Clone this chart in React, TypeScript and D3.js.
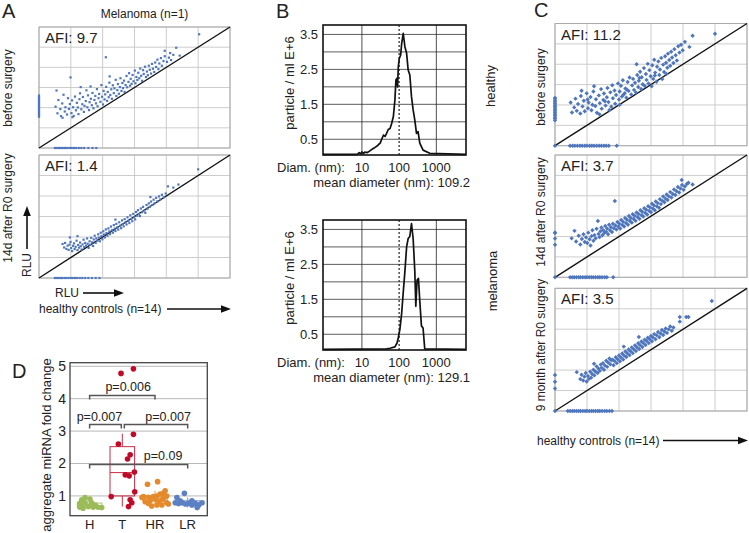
import React from 'react';
import * as d3 from 'd3';

const FONT = '"Liberation Sans", Arial, Helvetica, sans-serif';
const TXT = '#222';
const BLUE = '#4f76bd';

type P = [number, number];

// ---------------- Panel A : Melanoma (n=1) — grid units 0..6 ----------------
const aBeforeCloud: P[] = [
  [0.52,2.05],[0.58,1.72],[0.61,2.38],[0.67,1.93],[0.69,1.58],[0.73,2.21],[0.77,2.64],[0.81,1.81],[0.83,2.02],[0.88,1.66],
  [0.91,2.47],[0.94,1.94],[0.97,2.18],[1.02,1.73],[1.04,2.36],[1.07,2.02],[1.09,1.59],[1.13,2.55],[1.16,1.87],[1.19,2.24],
  [1.22,2.01],[1.24,1.68],[1.27,2.42],[1.29,2.71],[1.33,1.92],[1.36,2.17],[1.38,2.53],[1.41,1.79],[1.43,2.09],[1.47,2.33],
  [1.49,2.86],[1.52,2.02],[1.54,2.61],[1.57,1.88],[1.59,2.27],[1.63,2.44],[1.66,2.12],[1.68,2.73],[1.71,1.97],[1.74,2.38],
  [1.77,2.58],[1.79,2.21],[1.82,2.92],[1.84,2.07],[1.87,2.47],[1.89,2.68],[1.93,2.29],[1.96,3.12],[1.98,2.54],[2.01,2.16],
  [2.03,2.83],[2.06,2.41],[2.08,2.66],[2.11,3.03],[2.14,2.34],[2.16,2.78],[2.19,2.52],[2.21,3.24],[2.24,2.63],[2.27,2.91],
  [2.29,2.44],[2.32,3.11],[2.35,2.72],[2.37,2.96],[2.41,3.38],[2.43,2.58],[2.46,2.87],[2.48,3.17],[2.51,2.69],[2.54,3.02],
  [2.56,3.46],[2.59,2.83],[2.62,3.22],[2.64,2.97],[2.67,3.34],[2.69,2.78],[2.72,3.12],[2.75,3.57],[2.77,3.01],[2.81,3.28],
  [2.83,3.71],[2.86,3.09],[2.88,3.43],[2.91,3.18],[2.94,3.62],[2.97,3.31],[3.01,3.84],[3.03,3.21],[3.06,3.52],[3.09,3.37],
  [3.12,3.73],[3.15,3.46],[3.18,3.94],[3.21,3.58],[3.24,3.33],[3.27,3.86],[3.29,3.67],[3.33,4.03],[3.36,3.52],[3.39,3.79],
  [3.42,3.61],[3.45,4.08],[3.48,3.88],[3.52,3.69],[3.55,4.17],[3.58,3.93],[3.62,3.77],[3.65,4.24],[3.68,4.02],[3.72,4.38],
  [3.75,3.91],[3.78,4.19],[3.83,4.46],[3.86,4.08],[3.91,4.31],[3.95,4.55],[4.02,4.27],[4.08,4.48],[4.15,4.36],[4.22,4.62],
  [4.31,4.97],[4.12,4.71],[5.03,5.64],[2.1,4.5],[0.99,3.5],[0.55,2.85],[1.31,3.02],[1.62,3.05],[2.22,3.55],[4.42,4.58],
  [3.95,4.82],[1.05,1.53],[0.74,1.5]
];
const aBeforeLeft: number[] = [1.55,1.61,1.66,1.72,1.79,1.84,1.9,1.97,2.03,2.08,2.15,2.21,2.27,2.34,2.4,2.46,2.52,2.6];
const aBeforeBottom: number[] = [0.5,0.55,0.61,0.66,0.72,0.79,0.84,0.9,0.97,1.03,1.1,1.17,1.25,1.33,1.42,1.55,1.68,1.8];

const aAfterCloud: P[] = [
  [0.74,1.66],[0.79,1.49],[0.82,1.71],[0.86,1.42],[0.9,1.58],[0.93,1.37],[0.96,1.63],[0.99,1.76],[1.01,1.46],[1.04,1.31],
  [1.07,1.57],[1.1,1.69],[1.12,1.41],[1.15,1.52],[1.18,1.82],[1.21,1.36],[1.23,1.61],[1.26,1.48],[1.29,1.73],[1.31,1.55],
  [1.34,1.39],[1.37,1.64],[1.4,1.87],[1.42,1.51],[1.45,1.71],[1.48,1.58],[1.51,1.93],[1.53,1.67],[1.56,1.47],[1.59,1.79],
  [1.61,1.62],[1.64,1.96],[1.67,1.74],[1.7,1.56],[1.72,1.88],[1.75,2.06],[1.78,1.71],[1.8,1.93],[1.83,1.82],[1.86,2.13],
  [1.88,1.97],[1.91,1.79],[1.94,2.21],[1.96,2.04],[1.99,1.89],[2.02,2.28],[2.04,2.12],[2.07,1.98],[2.1,2.37],[2.12,2.19],
  [2.15,2.06],[2.18,2.42],[2.21,2.27],[2.23,2.14],[2.26,2.51],[2.29,2.33],[2.32,2.21],[2.35,2.58],[2.38,2.41],[2.4,2.29],
  [2.43,2.64],[2.46,2.47],[2.49,2.36],[2.52,2.72],[2.55,2.55],[2.58,2.43],[2.61,2.81],[2.63,2.63],[2.66,2.52],[2.69,2.87],
  [2.72,2.71],[2.75,2.61],[2.78,2.96],[2.81,2.79],[2.84,2.68],[2.87,3.06],[2.9,2.88],[2.93,2.77],[2.96,3.13],[2.99,2.96],
  [3.02,2.86],[3.05,3.22],[3.08,3.04],[3.11,3.31],[3.14,3.12],[3.17,3.02],[3.2,3.39],[3.24,3.21],[3.27,3.47],[3.31,3.29],
  [3.34,3.18],[3.38,3.56],[3.41,3.38],[3.45,3.64],[3.48,3.47],[3.52,3.73],[3.56,3.56],[3.6,3.82],[3.64,3.65],[3.68,3.91],
  [3.72,3.74],[3.77,3.98],[3.81,3.83],[3.86,4.06],[3.92,3.94],[3.98,4.12],[4.05,4.47],[4.22,4.41],[4.38,4.56],[5.0,5.3],
  [1.21,2.04],[0.97,1.98],[3.5,3.95],[2.4,2.85]
];
const aAfterBottom: number[] = [0.5,0.56,0.62,0.68,0.73,0.8,0.86,0.93,1.0,1.06,1.13,1.2,1.28,1.36,1.45,1.55,1.66,1.78,1.9];
const afiA = ['9.7', '1.4'];

// ---------------- Panel C : healthy controls vs melanoma cohort ----------------
const cBeforeCloud: P[] = [
  [0.49,2.12],[0.53,1.63],[0.6,1.88],[0.64,2.31],[0.68,1.71],[0.72,2.05],[0.79,1.58],[0.81,2.44],[0.86,1.93],[0.9,2.21],
  [0.93,1.69],[0.99,2.57],[1.03,1.84],[1.05,2.12],[1.11,2.39],[1.14,1.74],[1.17,2.01],[1.2,2.66],[1.26,1.95],[1.28,2.28],
  [1.31,1.62],[1.37,2.47],[1.4,2.09],[1.44,2.78],[1.46,1.82],[1.51,2.25],[1.53,2.56],[1.58,1.97],[1.62,2.38],[1.64,2.83],
  [1.67,2.14],[1.73,2.62],[1.76,1.91],[1.79,2.97],[1.81,2.33],[1.86,2.71],[1.88,2.06],[1.91,2.49],[1.97,3.06],[2.0,2.27],
  [2.02,2.66],[2.06,2.94],[2.09,2.41],[2.12,3.21],[2.18,2.58],[2.2,2.81],[2.23,2.36],[2.27,3.13],[2.3,2.69],[2.33,3.35],
  [2.38,2.52],[2.41,2.96],[2.44,3.28],[2.47,2.74],[2.5,3.09],[2.53,2.61],[2.57,3.47],[2.6,2.88],[2.62,3.19],[2.66,3.63],
  [2.69,2.79],[2.71,3.36],[2.74,3.02],[2.78,3.81],[2.8,2.94],[2.84,3.52],[2.86,3.23],[2.9,4.02],[2.92,3.06],[2.95,3.71],
  [2.99,3.41],[3.02,2.92],[3.04,3.95],[3.07,3.28],[3.1,4.22],[3.13,3.59],[3.17,3.14],[3.19,3.88],[3.23,4.14],[3.26,3.47],
  [3.28,3.74],[3.32,4.31],[3.35,3.27],[3.38,3.98],[3.41,3.62],[3.44,4.39],[3.47,4.07],[3.51,3.83],[3.53,4.52],[3.57,4.21],
  [3.6,3.92],[3.63,4.61],[3.66,4.33],[3.7,4.06],[3.73,4.74],[3.77,4.44],[3.81,4.18],[3.85,4.88],[3.89,4.57],[3.94,4.96],
  [3.99,4.69],[4.06,5.1],[4.2,4.85],[4.3,5.4],[5.0,5.5],[2.02,2.01],[1.39,1.54],[2.55,4.0],[1.22,2.92],[0.83,2.7],
  [3.48,3.52],[2.25,2.75],[1.7,1.75],[1.02,2.27],[1.56,2.18],[2.14,2.5],[2.64,3.33],[3.12,3.45]
];
const cBeforeLeft: number[] = [0,1.25,1.33,1.4,1.48,1.55,1.62,1.7,1.77,1.85,1.92,2.0,2.08,2.15,2.22,2.3,2.35];
const cBeforeBottom: number[] = [0.47,0.55,0.62,0.7,0.78,0.85,0.93,1.0,1.08,1.15,1.22,1.3,1.38,1.45,1.53,1.6,1.68,1.93];

const cDay14Cloud: P[] = [
  [0.52,1.91],[0.61,2.28],[0.66,1.76],[0.74,2.04],[0.79,1.61],[0.84,1.88],[0.89,2.11],[0.93,1.73],[0.97,1.96],[1.01,1.68],
  [1.04,2.19],[1.08,1.87],[1.11,1.56],[1.14,2.02],[1.17,2.31],[1.2,1.79],[1.23,2.07],[1.27,1.91],[1.3,2.38],[1.34,2.76],
  [1.36,2.13],[1.39,1.97],[1.42,2.26],[1.45,2.44],[1.48,2.06],[1.51,2.31],[1.54,2.17],[1.57,2.52],[1.6,2.23],[1.63,2.39],
  [1.66,2.11],[1.69,2.58],[1.72,2.31],[1.75,2.46],[1.78,2.22],[1.81,2.63],[1.84,2.41],[1.87,3.74],[1.89,2.54],[1.92,2.34],
  [1.95,2.71],[1.98,2.48],[2.01,2.63],[2.04,2.39],[2.07,2.81],[2.1,2.57],[2.13,2.72],[2.16,2.49],[2.19,2.91],[2.22,2.66],
  [2.25,2.82],[2.28,2.58],[2.31,3.01],[2.34,2.76],[2.37,2.91],[2.4,2.68],[2.43,3.09],[2.46,2.86],[2.49,3.02],[2.52,2.77],
  [2.55,3.18],[2.58,2.95],[2.61,3.11],[2.64,2.87],[2.67,3.29],[2.7,3.05],[2.73,3.21],[2.76,2.98],[2.79,3.39],[2.82,3.16],
  [2.85,3.32],[2.88,3.08],[2.91,3.49],[2.94,3.26],[2.97,3.43],[3.0,3.19],[3.03,3.61],[3.06,3.37],[3.09,3.53],[3.12,3.29],
  [3.15,3.72],[3.18,3.48],[3.21,3.64],[3.25,3.41],[3.28,3.83],[3.31,3.59],[3.35,3.76],[3.38,3.97],[3.42,3.68],[3.45,3.86],
  [3.49,4.06],[3.52,3.79],[3.56,3.97],[3.6,4.18],[3.64,3.91],[3.68,4.09],[3.72,4.31],[3.76,4.04],[3.8,4.22],[3.84,4.43],
  [3.88,4.16],[3.92,4.36],[3.97,4.53],[4.02,4.29],[4.06,4.46],[3.96,4.77],[4.17,4.64],[4.12,4.58],[4.3,4.55]
];
const cDay14Left: number[] = [0,1.6,1.9,2.17,2.2];
const cDay14Bottom: number[] = [0.47,0.54,0.6,0.67,0.74,0.8,0.87,0.94,1.0,1.07,1.14,1.2,1.27,1.34,1.4,1.47,1.55,1.62,1.82];

const cMonth9Cloud: P[] = [
  [0.68,1.9],[0.79,1.56],[0.83,1.77],[0.88,1.49],[0.92,1.68],[0.96,1.86],[0.99,1.44],[1.03,1.71],[1.06,1.57],[1.1,1.92],
  [1.13,1.63],[1.16,1.81],[1.2,2.02],[1.23,1.74],[1.26,1.93],[1.3,2.18],[1.33,1.86],[1.36,2.07],[1.4,1.96],[1.43,2.27],
  [1.46,2.11],[1.5,2.34],[1.53,2.02],[1.56,2.22],[1.6,2.46],[1.63,2.16],[1.66,2.37],[1.7,2.57],[1.73,2.28],[1.76,2.48],
  [1.8,2.51],[1.83,2.24],[1.86,2.44],[1.9,2.63],[1.93,2.34],[1.96,2.53],[2.0,2.72],[2.03,2.43],[2.06,2.62],[2.1,2.81],
  [2.13,2.52],[2.16,2.71],[2.2,2.91],[2.23,2.64],[2.26,2.82],[2.3,3.01],[2.33,2.73],[2.36,2.92],[2.4,3.11],[2.43,2.83],
  [2.46,3.02],[2.5,3.21],[2.53,2.93],[2.56,3.12],[2.6,3.31],[2.63,3.03],[2.66,3.22],[2.7,3.4],[2.73,3.13],[2.76,3.32],
  [2.8,3.49],[2.83,3.23],[2.86,3.42],[2.9,3.58],[2.93,3.32],[2.96,3.51],[3.0,3.67],[3.03,3.41],[3.06,3.6],[3.1,3.76],
  [3.14,3.51],[3.18,3.7],[3.22,3.86],[3.26,3.61],[3.3,3.79],[3.34,3.96],[3.38,3.72],[3.42,3.89],[3.46,4.04],[3.5,3.82],
  [3.55,3.99],[3.6,4.13],[3.65,3.92],[3.7,4.08],[3.9,4.6],[4.1,4.6],[4.17,4.6],[3.9,4.37],[4.9,5.38],[1.22,2.31],
  [2.15,3.15],[2.62,3.62]
];
const cMonth9Left: number[] = [0,1.1,1.43,1.76];
const cMonth9Bottom: number[] = [0.4,0.47,0.54,0.6,0.67,0.74,0.8,0.87,0.94,1.0,1.07,1.14,1.2,1.27,1.34,1.4,1.47,1.55,1.62,1.7,1.78];
const afiC = ['11.2', '3.7', '3.5'];

// ---------------- Panel B : NTA size distributions ----------------
const diamTicks = [10, 100, 1000];
const particleTicks = [0.5, 1.5, 2.5, 3.5];
const particleGrid = [0.5, 1, 1.5, 2, 2.5, 3, 3.5];
const healthyDiam = [0.9, 7.4, 8.5, 9.2, 10, 11, 12, 14, 16, 19, 22, 25, 28, 31, 34, 38, 42, 46, 51, 57, 63, 70, 77, 82, 86, 91, 95, 101, 110, 117, 129, 143, 159, 175, 194, 215, 238, 264, 293, 323, 359, 440, 663, 6270];
const healthyConc = [0.07, 0.07, 0.12, 0.08, 0.14, 0.09, 0.13, 0.12, 0.16, 0.22, 0.26, 0.3, 0.35, 0.39, 0.5, 0.62, 0.58, 0.67, 0.78, 0.81, 0.95, 1.15, 1.62, 2.19, 2.24, 2.0, 2.57, 2.81, 2.91, 3.24, 3.53, 3.15, 2.96, 2.48, 2.34, 1.72, 1.34, 1.05, 0.67, 0.72, 0.39, 0.19, 0.1, 0.07];
const melanomaDiam = [0.9, 46, 57, 77, 88, 95, 105, 117, 129, 143, 159, 175, 194, 215, 238, 264, 281, 304, 331, 359, 398, 440, 488, 6270];
const melanomaConc = [0.07, 0.08, 0.1, 0.14, 0.25, 0.4, 0.65, 1.1, 1.7, 2.3, 3.0, 3.24, 3.3, 3.67, 3.24, 2.3, 1.3, 2.05, 2.1, 1.45, 0.74, 0.68, 0.08, 0.07];
const meanDiameters = ['109.2', '129.1'];
const sampleLabels = ['healthy', 'melanoma'];

// ---------------- Panel D : aggregate miRNA fold change ----------------
const groups = ['H', 'T', 'HR', 'LR'];
const groupColors = ['#9bbb59', '#c00a28', '#e58a2c', '#5b80c4'];
const foldTicks = [1, 2, 3, 4, 5];
const hValues = [0.95, 0.88, 0.9, 0.77, 0.79, 0.79, 0.72, 0.67, 0.67, 0.65, 0.65, 0.64, 0.65, 0.62];
const hJitter = [-0.14, -0.24, 0.01, -0.3, -0.14, 0.06, 0.17, -0.24, -0.04, 0.11, 0.26, 0.37, -0.3, -0.2];
const tValues = [4.78, 4.92, 2.6, 2.9, 2.27, 2.14, 1.74, 1.65, 1.62, 1.13, 0.98, 0.88, 0.79, 0.67];
const tJitter = [-0.04, 0.34, -0.12, 0.34, 0.24, 0.16, 0.37, 0.09, 0.21, 0.38, -0.34, 0.24, 0.29, 0.19];
const hrValues = [1.36, 1.44, 0.98, 0.96, 0.98, 1.0, 1.06, 1.08, 1.16, 1.0, 0.82, 0.85, 0.9, 0.82, 0.88, 0.79, 0.75, 0.69, 0.72, 0.72, 0.77, 0.93, 0.95];
const hrJitter = [-0.23, 0.08, -0.35, -0.2, -0.05, 0.06, 0.16, 0.26, 0.31, 0.36, -0.3, -0.15, 0.01, 0.11, 0.21, 0.36, 0.41, -0.1, 0.06, 0.21, -0.2, 0.26, -0.4];
const lrValues = [1.08, 0.95, 0.79, 0.77, 0.79, 0.75, 0.77, 0.72, 0.77, 0.72, 0.79, 0.64, 0.85, 0.85];
const lrJitter = [-0.1, -0.33, -0.38, -0.28, -0.17, -0.07, 0.03, 0.13, 0.23, 0.34, 0.44, 0.29, 0.13, -0.23];
// [lower whisker, q1, median, q3, upper whisker]
const boxStats = [
  [0.62, 0.66, 0.7, 0.78, 0.95],
  [0.67, 1.0, 1.72, 2.52, 2.92],
  [0.69, 0.85, 0.93, 1.0, 1.16],
  [0.64, 0.75, 0.79, 0.85, 0.95],
];
// [from group, to group, level, label, label position in group units]
const brackets: [string, string, number, string, number][] = [
  ['H', 'HR', 4.1, 'p=0.006', 1.18],
  ['H', 'T', 3.2, 'p=0.007', 0.3],
  ['T', 'LR', 3.2, 'p=0.007', 2.4],
  ['H', 'LR', 1.97, 'p=0.09', 2.25],
];

function Arrow({ x1, y1, x2, y2 }: { x1: number; y1: number; x2: number; y2: number }) {
  const a = Math.atan2(y2 - y1, x2 - x1);
  const L = 10, W = 3.8;
  const bx = x2 - L * Math.cos(a), by = y2 - L * Math.sin(a);
  const px = -Math.sin(a) * W, py = Math.cos(a) * W;
  return (
    <g>
      <line x1={x1} y1={y1} x2={bx} y2={by} stroke="#111" strokeWidth={1.6} />
      <polygon points={`${x2},${y2} ${bx + px},${by + py} ${bx - px},${by - py}`} fill="#111" />
    </g>
  );
}

function VText({ x, y, children, size = 12 }: { x: number; y: number; children: React.ReactNode; size?: number }) {
  return (
    <text transform={`translate(${x},${y}) rotate(-90)`} textAnchor="middle" dy="0.35em" fontSize={size} fill={TXT}>
      {children}
    </text>
  );
}

type ScatterProps = {
  x0: number; x1: number; y0: number; y1: number;
  cloud: P[]; left: number[]; bottom: number[]; afi: string; diamond?: boolean;
};

function Scatter({ x0, x1, y0, y1, cloud, left, bottom, afi, diamond }: ScatterProps) {
  const x = d3.scaleLinear().domain([0, 6]).range([x0, x1]);
  const y = d3.scaleLinear().domain([0, 6]).range([y1, y0]);
  const pts: P[] = [...cloud, ...left.map((v) => [0, v] as P), ...bottom.map((v) => [v, 0] as P)];
  const r = 2.2;
  return (
    <g>
      <rect x={x0} y={y0} width={x1 - x0} height={y1 - y0} fill="#fff" />
      {x.ticks(6).map((t) => (
        <line key={'v' + t} x1={x(t)} x2={x(t)} y1={y0} y2={y1} stroke="#c6c6c6" strokeWidth={0.9} />
      ))}
      {y.ticks(6).map((t) => (
        <line key={'h' + t} x1={x0} x2={x1} y1={y(t)} y2={y(t)} stroke="#c6c6c6" strokeWidth={0.9} />
      ))}
      <rect x={x0} y={y0} width={x1 - x0} height={y1 - y0} fill="none" stroke="#aaa" strokeWidth={1} />
      <line x1={x(0)} y1={y(0)} x2={x(6)} y2={y(6)} stroke="#111" strokeWidth={1.4} />
      {pts.map(([a, b], i) =>
        diamond ? (
          <path key={i} d={`M${x(a)},${y(b) - r}L${x(a) + r},${y(b)}L${x(a)},${y(b) + r}L${x(a) - r},${y(b)}Z`} fill={BLUE} />
        ) : (
          <rect key={i} x={x(a) - 1.1} y={y(b) - 1.1} width={2.2} height={2.2} fill={BLUE} />
        )
      )}
      <text x={x0 + 6} y={y0 + 16} fontSize={15} fill={TXT}>AFI: {afi}</text>
    </g>
  );
}

function SizePlot({ top, diam, conc, mean }: { top: number; diam: number[]; conc: number[]; mean: string }) {
  const x = d3.scaleLog().domain([0.9, 6270]).range([323, 466]);
  const y = d3.scaleLinear().domain([0.05, 3.77]).range([top + 130, top]);
  const line = d3.line<number>().x((_, i) => x(diam[i])).y((d) => y(d));
  return (
    <g>
      {particleGrid.map((t) => (
        <line key={t} x1={323} x2={466} y1={y(t)} y2={y(t)} stroke="#333" strokeWidth={0.8} />
      ))}
      {diamTicks.map((t) => (
        <line key={t} x1={x(t)} x2={x(t)} y1={top} y2={top + 130} stroke="#222"
          strokeWidth={t === 100 ? 1.2 : 0.8} strokeDasharray={t === 100 ? '2,2' : undefined} />
      ))}
      <path d={line(conc) || ''} fill="none" stroke="#111" strokeWidth={1.7} strokeLinejoin="round" />
      <rect x={323} y={top} width={143} height={130} fill="none" stroke="#111" strokeWidth={1.6} />
      {particleTicks.map((t) => (
        <text key={t} x={318} y={y(t)} dy="0.35em" textAnchor="end" fontSize={13} fill={TXT}>{t.toFixed(1)}</text>
      ))}
      <text x={277} y={top + 147} fontSize={13} fill={TXT}>Diam. (nm):</text>
      {diamTicks.map((t) => (
        <text key={'l' + t} x={x(t)} y={top + 147} textAnchor="middle" fontSize={13} fill={TXT}>{t}</text>
      ))}
      <text x={470} y={top + 162} textAnchor="end" fontSize={13} fill={TXT}>mean diameter (nm): {mean}</text>
      <VText x={289} y={top + 58} size={13}>particle / ml E+6</VText>
    </g>
  );
}

function PanelD() {
  const x = d3.scalePoint<string>().domain(groups).range([70, 207.3]).padding(0.6);
  const step = x.step();
  const y = d3.scaleLinear().domain([0.39, 5.11]).range([515.7, 362.7]);
  const vals = [hValues, tValues, hrValues, lrValues];
  const jit = [hJitter, tJitter, hrJitter, lrJitter];
  const bw = 12.3;
  return (
    <g>
      {foldTicks.map((t) => (
        <line key={t} x1={70} x2={207.3} y1={y(t)} y2={y(t)} stroke="#b8b8b8" strokeWidth={1} />
      ))}
      {foldTicks.map((t) => (
        <text key={'t' + t} x={66} y={y(t)} dy="0.35em" textAnchor="end" fontSize={14} fill={TXT}>{t}</text>
      ))}
      {groups.map((g, i) => {
        const [lo, q1, md, q3, hi] = boxStats[i];
        const cx = x(g)!;
        const c = groupColors[i];
        return (
          <g key={g} stroke={c} strokeWidth={1} fill="none" opacity={0.85}>
            <line x1={cx} x2={cx} y1={y(q3)} y2={y(hi)} />
            <line x1={cx} x2={cx} y1={y(q1)} y2={y(lo)} />
            <rect x={cx - bw} y={y(q3)} width={2 * bw} height={y(q1) - y(q3)} />
            <line x1={cx - bw} x2={cx + bw} y1={y(md)} y2={y(md)} />
          </g>
        );
      })}
      {groups.map((g, i) =>
        vals[i].map((v, j) => (
          <circle key={g + j} cx={x(g)! + jit[i][j] * step} cy={y(v)} r={2.8} fill={groupColors[i]} />
        ))
      )}
      {brackets.map(([a, b, lvl, lab, pos], i) => {
        const xa = x(a)! + (a === 'T' ? 2 : 0);
        const xb = x(b)! + (b === 'T' ? -1 : 0);
        const yy = y(lvl);
        return (
          <g key={i}>
            <path d={`M${xa},${yy + 4}V${yy}H${xb}V${yy + 4}`} fill="none" stroke="#555" strokeWidth={1.5} />
            <text x={x('H')! + pos * step} y={yy - 4} textAnchor="middle" fontSize={12.5} fill={TXT}>{lab}</text>
          </g>
        );
      })}
      <rect x={70} y={362.7} width={137.3} height={153} fill="none" stroke="#444" strokeWidth={1.3} />
      {groups.map((g) => (
        <text key={'c' + g} x={x(g)!} y={529} textAnchor="middle" fontSize={13} fill={TXT}>{g}</text>
      ))}
      <VText x={46} y={445} size={13}>aggregate miRNA fold change</VText>
    </g>
  );
}

export default function App() {
  return (
    <svg width={749} height={533} style={{ position: 'absolute', left: 0, top: 0, background: '#fff' }} fontFamily={FONT}>
      <rect width={749} height={533} fill="#fff" />
      {/* Panel letters */}
      <text x={2} y={18} fontSize={20} fill={TXT}>A</text>
      <text x={276} y={18} fontSize={20} fill={TXT}>B</text>
      <text x={534} y={17} fontSize={20} fill={TXT}>C</text>
      <text x={12} y={378} fontSize={20} fill={TXT}>D</text>

      {/* Panel A */}
      <text x={144.5} y={18} textAnchor="middle" fontSize={12} fill={TXT}>Melanoma (n=1)</text>
      <Scatter x0={39} x1={230} y0={27} y1={148} cloud={aBeforeCloud} left={aBeforeLeft} bottom={aBeforeBottom} afi={afiA[0]} />
      <Scatter x0={39} x1={230} y0={155} y1={278} cloud={aAfterCloud} left={[]} bottom={aAfterBottom} afi={afiA[1]} />
      <VText x={8} y={88}>before surgery</VText>
      <VText x={8} y={208}>14d after R0 surgery</VText>
      <VText x={27} y={265}>RLU</VText>
      <Arrow x1={27} y1={249} x2={27} y2={206} />
      <text x={55} y={297} fontSize={12} fill={TXT}>RLU</text>
      <Arrow x1={83} y1={293} x2={124} y2={293} />
      <text x={39} y={313} fontSize={12} fill={TXT}>healthy controls (n=14)</text>
      <Arrow x1={167} y1={309} x2={231} y2={309} />

      {/* Panel B */}
      <SizePlot top={25} diam={healthyDiam} conc={healthyConc} mean={meanDiameters[0]} />
      <SizePlot top={220} diam={melanomaDiam} conc={melanomaConc} mean={meanDiameters[1]} />
      <VText x={490} y={86} size={13}>{sampleLabels[0]}</VText>
      <VText x={492} y={281} size={13}>{sampleLabels[1]}</VText>

      {/* Panel C */}
      <Scatter x0={555} x1={747} y0={23.5} y1={145.7} cloud={cBeforeCloud} left={cBeforeLeft} bottom={cBeforeBottom} afi={afiC[0]} diamond />
      <Scatter x0={555} x1={747} y0={155} y1={277.3} cloud={cDay14Cloud} left={cDay14Left} bottom={cDay14Bottom} afi={afiC[1]} diamond />
      <Scatter x0={555} x1={747} y0={288.3} y1={411} cloud={cMonth9Cloud} left={cMonth9Left} bottom={cMonth9Bottom} afi={afiC[2]} diamond />
      <VText x={541} y={87}>before surgery</VText>
      <VText x={541} y={212}>14d after R0 surgery</VText>
      <VText x={541} y={345}>9 month after R0 surgery</VText>
      <text x={537} y={445} fontSize={12} fill={TXT}>healthy controls (n=14)</text>
      <Arrow x1={663} y1={440.5} x2={748} y2={440.5} />

      {/* Panel D */}
      <PanelD />
    </svg>
  );
}
